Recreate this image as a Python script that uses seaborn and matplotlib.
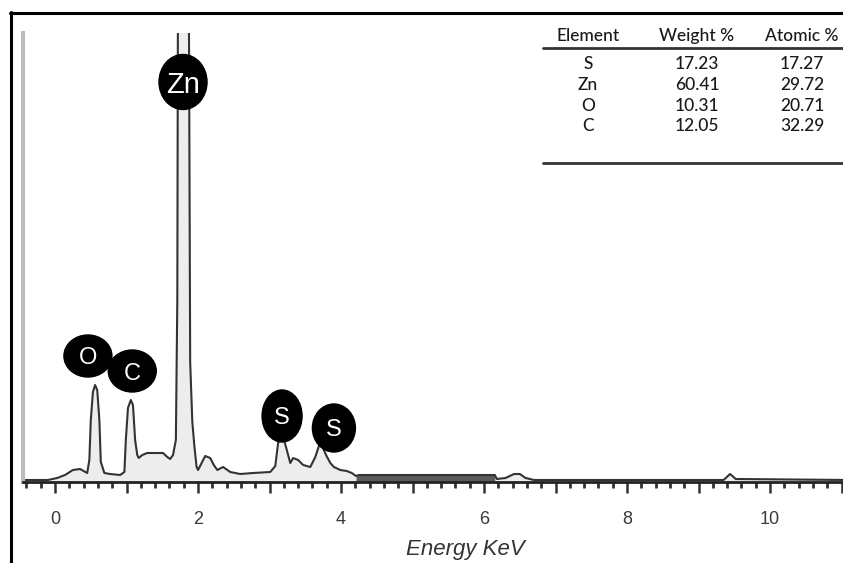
import matplotlib
matplotlib.use("Agg")
import matplotlib.pyplot as plt
from matplotlib.lines import Line2D
from matplotlib.patches import Ellipse
from matplotlib.ticker import MultipleLocator, FuncFormatter
import numpy as np
import pandas as pd
import seaborn as sns

# EDS spectrum trace (energy in keV, counts in arbitrary units)
energy_kev = [-0.45, -0.10, 0.03, 0.14, 0.25, 0.35, 0.45,
              0.48, 0.50, 0.53, 0.56, 0.59, 0.62, 0.64, 0.69,
              0.77, 0.91, 0.97,
              0.99, 1.02, 1.06, 1.09, 1.12, 1.15,
              1.17, 1.22, 1.29, 1.43, 1.51, 1.57, 1.61, 1.65,
              1.69, 1.71, 1.72, 1.87, 1.89, 1.92, 1.95, 1.98,
              2.00, 2.10, 2.17, 2.22, 2.27, 2.35, 2.45, 2.59, 2.77, 3.01, 3.08,
              3.12, 3.18, 3.23, 3.29, 3.33, 3.40, 3.47, 3.57,
              3.64, 3.69, 3.73, 3.79, 3.85, 3.90, 3.99, 4.08, 4.15, 4.21,
              4.25, 6.15, 6.18, 6.30, 6.42, 6.50, 6.58, 6.70,
              9.35, 9.44, 9.52, 11.10]
counts = [2, 2, 4, 7, 12, 13, 9,
          22, 62, 90, 97, 92, 62, 20, 9,
          8, 7, 10,
          42, 74, 82, 77, 42, 27,
          24, 27, 29, 29, 29, 25, 23, 27,
          42, 182, 520, 520, 120, 60, 35, 15,
          12, 26, 24, 17, 12, 15, 10, 8, 9, 10, 16,
          39, 48, 35, 19, 24, 22, 17, 15,
          25, 36, 37, 27, 19, 15, 12, 11, 9, 6,
          7, 7, 3, 4, 8, 8, 4, 2,
          2, 8, 3, 2]

# Element peak labels
peak_labels = ["Zn", "O", "C", "S", "S"]
peak_label_kev = [1.79, 0.46, 1.08, 3.175, 3.90]
peak_label_counts = [400, 126, 111, 66, 54]

# Quantification table
table_header = ["Element", "Weight %", "Atomic %"]
table_elements = ["S", "Zn", "O", "C"]
weight_pct = ["17.23", "60.41", "10.31", "12.05"]
atomic_pct = ["17.27", "29.72", "20.71", "32.29"]

spectrum = pd.DataFrame({"energy": energy_kev, "counts": counts})

sns.set_theme(style="white")
plt.rcParams["font.family"] = ["Liberation Sans", "DejaVu Sans"]

W, H = 843, 563
fig = plt.figure(figsize=(W / 100, H / 100), dpi=100)
fig.patch.set_facecolor("white")

ax_left, ax_bottom, ax_top = 23, 482, 33
ax = fig.add_axes([ax_left / W, (H - ax_bottom) / H,
                   (W - ax_left) / W, (ax_bottom - ax_top) / H])
ax.set_facecolor("white")

e = spectrum["energy"].to_numpy()
c = spectrum["counts"].to_numpy()
ax.fill_between(e, 0, c, color="#ededed", lw=0, zorder=1)
band = (e >= 4.2) & (e <= 6.16)
ax.fill_between(e, 0, c, where=band, color="#5a5a5a", lw=0, zorder=1.5)
sns.lineplot(data=spectrum, x="energy", y="counts", ax=ax, sort=False,
             estimator=None, color="#333333", lw=1.5, zorder=2)

ax.set_xlim(-0.448, 11.02)
ax.set_ylim(0, 449)

for name, ex, cy, w_px, h_px, fs in zip(
        peak_labels, peak_label_kev, peak_label_counts,
        [48, 48, 48, 40, 43], [55, 42, 42, 52, 48], [21, 17, 17, 17, 17]):
    ax.add_patch(Ellipse((ex, cy), width=w_px / 71.5, height=h_px,
                         facecolor="black", edgecolor="black", zorder=4))
    ax.text(ex, cy, name, color="white", fontsize=fs, ha="center",
            va="center_baseline", zorder=5)

for side in ["top", "right"]:
    ax.spines[side].set_visible(False)
ax.spines["left"].set_color("#bdbdbd")
ax.spines["left"].set_linewidth(3)
ax.spines["bottom"].set_color("#222222")
ax.spines["bottom"].set_linewidth(2)

ax.xaxis.set_major_locator(MultipleLocator(1))
ax.xaxis.set_minor_locator(MultipleLocator(0.2))
ax.xaxis.set_major_formatter(
    FuncFormatter(lambda v, p: f"{v:.0f}" if round(v) % 2 == 0 else ""))
ax.tick_params(axis="x", which="both", bottom=True)
ax.tick_params(axis="x", which="major", direction="out", length=8, width=1.8,
               color="#333333", pad=13, labelsize=13, labelcolor="#3a3a3a")
ax.tick_params(axis="x", which="minor", direction="out", length=4.5, width=2,
               color="#333333")
ax.set_yticks([])
ax.set_ylabel("")
ax.set_xlabel("Energy KeV", fontsize=16, style="italic", color="#333333",
              labelpad=8, x=0.539)

# Outer frame lines
fig.add_artist(Line2D([10 / W, 1.0], [1 - 13 / H, 1 - 13 / H],
                      transform=fig.transFigure, color="black", lw=2.2))
fig.add_artist(Line2D([11 / W, 11 / W], [1 - 12 / H, 0],
                      transform=fig.transFigure, color="black", lw=2.2))

# Composition table
col_x = [588, 697, 802]
tfont = dict(family=["Lato", "DejaVu Sans"], fontsize=12.5, color="#1a1a1a",
             ha="center", va="center", fontweight="medium")
for x, label in zip(col_x, table_header):
    fig.text(x / W, 1 - 36 / H, label, **tfont)
row_y = [64, 85, 106, 126]
for y, el, wp, ap in zip(row_y, table_elements, weight_pct, atomic_pct):
    for x, val in zip(col_x, [el, wp, ap]):
        fig.text(x / W, 1 - y / H, val, **tfont)
for y in [48, 163]:
    fig.add_artist(Line2D([543 / W, 1.0], [1 - y / H, 1 - y / H],
                          transform=fig.transFigure, color="#333333", lw=2))

fig.savefig("out.png", dpi=100, facecolor="white")
